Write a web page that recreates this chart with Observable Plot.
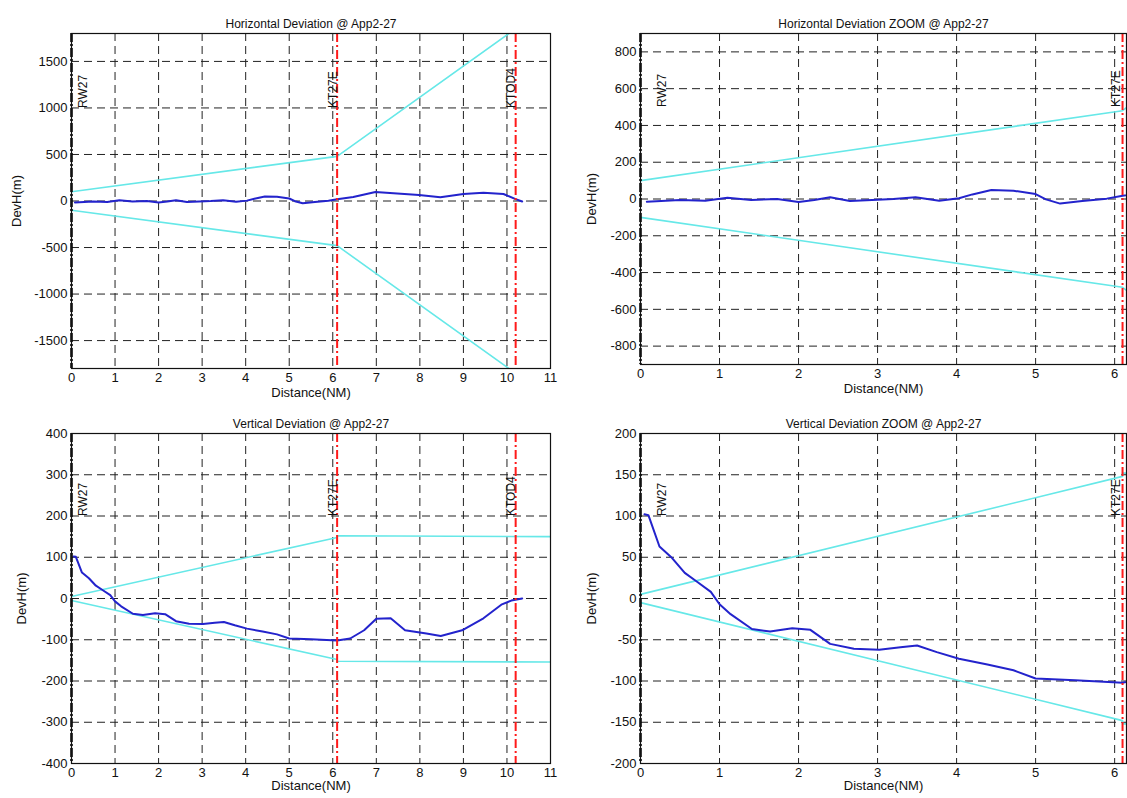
<!DOCTYPE html>
<html><head><meta charset="utf-8">
<script src="https://cdn.jsdelivr.net/npm/d3@7"></script>
<script src="https://cdn.jsdelivr.net/npm/@observablehq/plot@0.6"></script>
<style>
body{margin:0;background:#fff;width:1127px;height:798px;position:relative;overflow:hidden;font-family:"Liberation Sans",Arial,sans-serif;}
.p{position:absolute;}
</style></head><body>
<div id="tl" class="p" style="left:0;top:0"></div>
<div id="tr" class="p" style="left:560px;top:0"></div>
<div id="bl" class="p" style="left:0;top:400px"></div>
<div id="br" class="p" style="left:560px;top:400px"></div>
<script>
// Horizontal deviation track (NM, m)
const hdDist = [0.08,0.5,0.82,1.1,1.4,1.73,2.0,2.2,2.4,2.65,2.93,3.2,3.48,3.78,4.03,4.2,4.44,4.72,5.0,5.13,5.31,5.59,5.9,6.1,6.47,6.98,7.48,7.98,8.47,9.0,9.46,9.92,10.2,10.35];
const hdDev  = [-15,-5,-10,7,-5,0,-16,-5,9,-11,-5,0,9,-9,4,25,49,45,27,-2,-25,-11,2,18,43,97,80,65,40,75,88,75,20,-5];
// Vertical deviation track (NM, m)
const vdDist = [0.05,0.1,0.24,0.4,0.56,0.72,0.89,1.0,1.14,1.41,1.64,1.92,2.15,2.4,2.7,3.02,3.29,3.5,3.75,4.03,4.39,4.72,5.0,5.5,6.1,6.4,6.72,7.0,7.33,7.66,8.15,8.48,8.97,9.46,9.87,10.1,10.35];
const vdDev  = [102,101,63,49,31,20,8,-7,-19,-37,-40,-36,-38,-55,-61,-62,-59,-57,-65,-73,-80,-87,-97,-99,-102,-97,-77,-49,-48,-77,-85,-91,-77,-48,-15,-5,0];
// Tolerance envelopes
const hTolDist  = [0, 6.1, 10.2];
const hTolUpper = [100, 480, 1852];
const hTolLower = [-100, -480, -1852];
const vTolDist  = [0, 6.1, 6.1, 11];
const vTolUpper = [5, 148, 152, 150];
const vTolLower = [-5, -148, -152, -154];
// Waypoints
const wpNames    = ["RW27", "KT27E", "KTOD4"];
const wpDist     = [0, 6.1, 10.2];
const wpLabelPos = [0.27, 6.02, 10.1];
// Tick values
const xTicksFull = [0,1,2,3,4,5,6,7,8,9,10,11];
const xTicksZoom = [0,1,2,3,4,5,6];
const yTicksHD   = [-1500,-1000,-500,0,500,1000,1500];
const yTicksHDZ  = [-800,-600,-400,-200,0,200,400,600,800];
const yTicksVD   = [-400,-300,-200,-100,0,100,200,300,400];
const yTicksVDZ  = [-200,-150,-100,-50,0,50,100,150,200];

const zip = (a, b) => a.map((v, i) => ({x: v, y: b[i]}));

function panel(o) {
  const dev = zip(o.devDist, o.devVal);
  const up = zip(o.tolDist, o.tolUp);
  const lo = zip(o.tolDist, o.tolLo);
  const wps = wpNames.map((n, i) => ({name: n, x: wpDist[i], lx: wpLabelPos[i]}))
    .filter(w => w.x <= o.xDomain[1]);
  const fmt = d => String(d);
  return Plot.plot({
    width: o.width, height: o.height,
    marginLeft: o.ml, marginRight: o.mr, marginTop: o.mt, marginBottom: o.mb,
    style: {fontFamily: '"Liberation Sans", Arial, sans-serif', fontSize: "12px", color: "#111", background: "transparent", overflow: "visible"},
    x: {domain: o.xDomain},
    y: {domain: o.yDomain},
    marks: [
      Plot.gridX(o.xTicks, {stroke: "#222", strokeOpacity: 1, strokeDasharray: "8,5"}),
      Plot.gridY(o.yTicks, {stroke: "#222", strokeOpacity: 1, strokeDasharray: "8,5"}),
      Plot.line(up, {x: "x", y: "y", stroke: "#66e8e8", strokeWidth: 1.6, clip: true}),
      Plot.line(lo, {x: "x", y: "y", stroke: "#66e8e8", strokeWidth: 1.6, clip: true}),
      Plot.line(dev, {x: "x", y: "y", stroke: "#2323cc", strokeWidth: 2, clip: true}),
      Plot.ruleX(wps.filter(w => w.x > 0), {x: "x", stroke: "#ff1a1a", strokeWidth: 2, strokeDasharray: "9,3,2,3"}),
      Plot.ruleX(wps.filter(w => w.x === 0), {x: "x", stroke: "#000", strokeWidth: 2.5, strokeDasharray: "9,2,2,2"}),
      Plot.text(wps, {x: "lx", y: () => o.labelY, text: "name", rotate: -90, textAnchor: "start", lineAnchor: "middle", fontSize: 12, fill: "#111"}),
      Plot.frame({stroke: "#111", strokeWidth: 1.2}),
      Plot.axisX(o.xTicks, {tickSize: 0, tickPadding: 4, tickFormat: fmt, fontSize: 13, label: "Distance(NM)", labelAnchor: "center", labelOffset: o.xlo, labelArrow: "none"}),
      Plot.axisY(o.yTicks, {tickSize: 0, tickPadding: 4, tickFormat: fmt, fontSize: 13, label: "DevH(m)", labelAnchor: "center", labelOffset: o.ylo, labelArrow: "none"}),
      Plot.text([o.title], {frameAnchor: "top", dy: -14, fontSize: 12, fill: "#111"})
    ]
  });
}

document.getElementById("tl").append(panel({
  title: "Horizontal Deviation @ App2-27", width: 560, height: 400, ml: 71, mr: 10, mt: 33, mb: 32,
  xDomain: [0, 11], xTicks: xTicksFull, yDomain: [-1800, 1800], yTicks: yTicksHD,
  tolDist: hTolDist, tolUp: hTolUpper, tolLo: hTolLower, devDist: hdDist, devVal: hdDev,
  labelY: 1000, xlo: 28, ylo: 60
}));
document.getElementById("tr").append(panel({
  title: "Horizontal Deviation ZOOM @ App2-27", width: 567, height: 400, ml: 80, mr: 1, mt: 33, mb: 36,
  xDomain: [0, 6.15], xTicks: xTicksZoom, yDomain: [-900, 900], yTicks: yTicksHDZ,
  tolDist: hTolDist, tolUp: hTolUpper, tolLo: hTolLower, devDist: hdDist, devVal: hdDev,
  labelY: 500, xlo: 28, ylo: 54
}));
document.getElementById("bl").append(panel({
  title: "Vertical Deviation @ App2-27", width: 560, height: 398, ml: 71, mr: 10, mt: 33, mb: 35,
  xDomain: [0, 11], xTicks: xTicksFull, yDomain: [-400, 400], yTicks: yTicksVD,
  tolDist: vTolDist, tolUp: vTolUpper, tolLo: vTolLower, devDist: vdDist, devVal: vdDev,
  labelY: 200, xlo: 26, ylo: 55
}));
document.getElementById("br").append(panel({
  title: "Vertical Deviation ZOOM @ App2-27", width: 567, height: 398, ml: 80, mr: 1, mt: 33, mb: 35,
  xDomain: [0, 6.15], xTicks: xTicksZoom, yDomain: [-200, 200], yTicks: yTicksVDZ,
  tolDist: vTolDist, tolUp: vTolUpper, tolLo: vTolLower, devDist: vdDist, devVal: vdDev,
  labelY: 100, xlo: 26, ylo: 54
}));
</script>
</body></html>
